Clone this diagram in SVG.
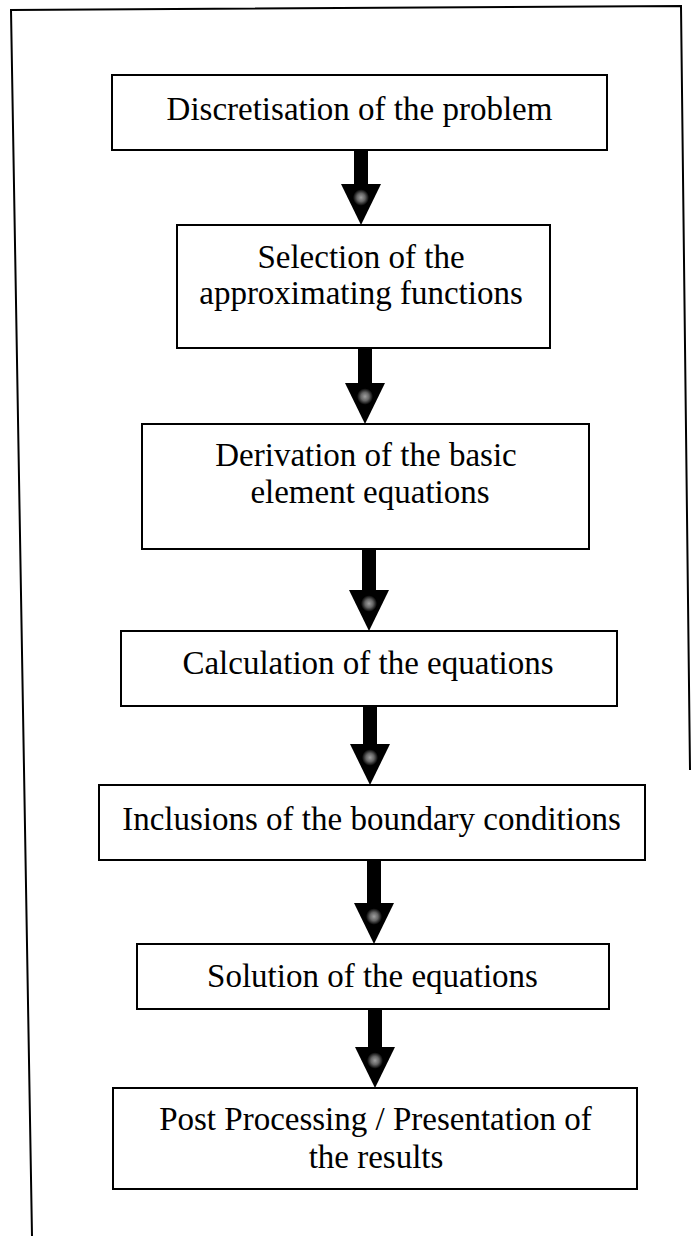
<svg xmlns="http://www.w3.org/2000/svg" width="692" height="1236" viewBox="0 0 692 1236">
<style>
.box{fill:#fff;stroke:#000;stroke-width:2}
.frame{fill:none;stroke:#000;stroke-width:2}
.t{font-family:"Liberation Serif","Times New Roman",serif;font-size:33px;fill:#000;text-anchor:middle}
.shaft{fill:#000}
.head{fill:url(#hg)}
</style>
<defs>
<radialGradient id="hg" cx="0.5" cy="0.33" r="0.2">
<stop offset="0" stop-color="#a0a0a0"/>
<stop offset="0.5" stop-color="#666"/>
<stop offset="1" stop-color="#000"/>
</radialGradient>
</defs>
<rect width="692" height="1236" fill="#fff"/>
<g id="frame">
<path class="frame" d="M32,1236 L11,10 L681,6 L690,770"/>
</g>
<g id="connectors">
<rect class="shaft" x="354" y="150" width="14" height="35"/>
<polygon class="head" points="341,184 381,184 361,225"/>
<rect class="shaft" x="358" y="348" width="14" height="36"/>
<polygon class="head" points="345,383 385,383 365,424"/>
<rect class="shaft" x="362" y="549" width="14" height="42"/>
<polygon class="head" points="349,590 389,590 369,631"/>
<rect class="shaft" x="363" y="706" width="14" height="39"/>
<polygon class="head" points="350,744 390,744 370,785"/>
<rect class="shaft" x="367" y="860" width="14" height="44"/>
<polygon class="head" points="354,903 394,903 374,944"/>
<rect class="shaft" x="368" y="1009" width="14" height="39"/>
<polygon class="head" points="355,1047 395,1047 375,1088"/>
</g>
<g id="n1">
<rect class="box" x="112" y="75" width="495" height="75"/>
<text class="t" x="359.5" y="120">Discretisation of the problem</text>
</g>
<g id="n2">
<rect class="box" x="177" y="225" width="373" height="123"/>
<text class="t" x="361" y="268">Selection of the</text>
<text class="t" x="361" y="304">approximating functions</text>
</g>
<g id="n3">
<rect class="box" x="142" y="424" width="447" height="125"/>
<text class="t" x="366" y="466">Derivation of the basic</text>
<text class="t" x="370" y="503">element equations</text>
</g>
<g id="n4">
<rect class="box" x="121" y="631" width="496" height="75"/>
<text class="t" x="368" y="674">Calculation of the equations</text>
</g>
<g id="n5">
<rect class="box" x="99" y="785" width="546" height="75"/>
<text class="t" x="371.5" y="830">Inclusions of the boundary conditions</text>
</g>
<g id="n6">
<rect class="box" x="137" y="944" width="472" height="65"/>
<text class="t" x="372.5" y="987">Solution of the equations</text>
</g>
<g id="n7">
<rect class="box" x="113" y="1088" width="524" height="101"/>
<text class="t" x="375.5" y="1130">Post Processing / Presentation of</text>
<text class="t" x="376" y="1168">the results</text>
</g>
</svg>
